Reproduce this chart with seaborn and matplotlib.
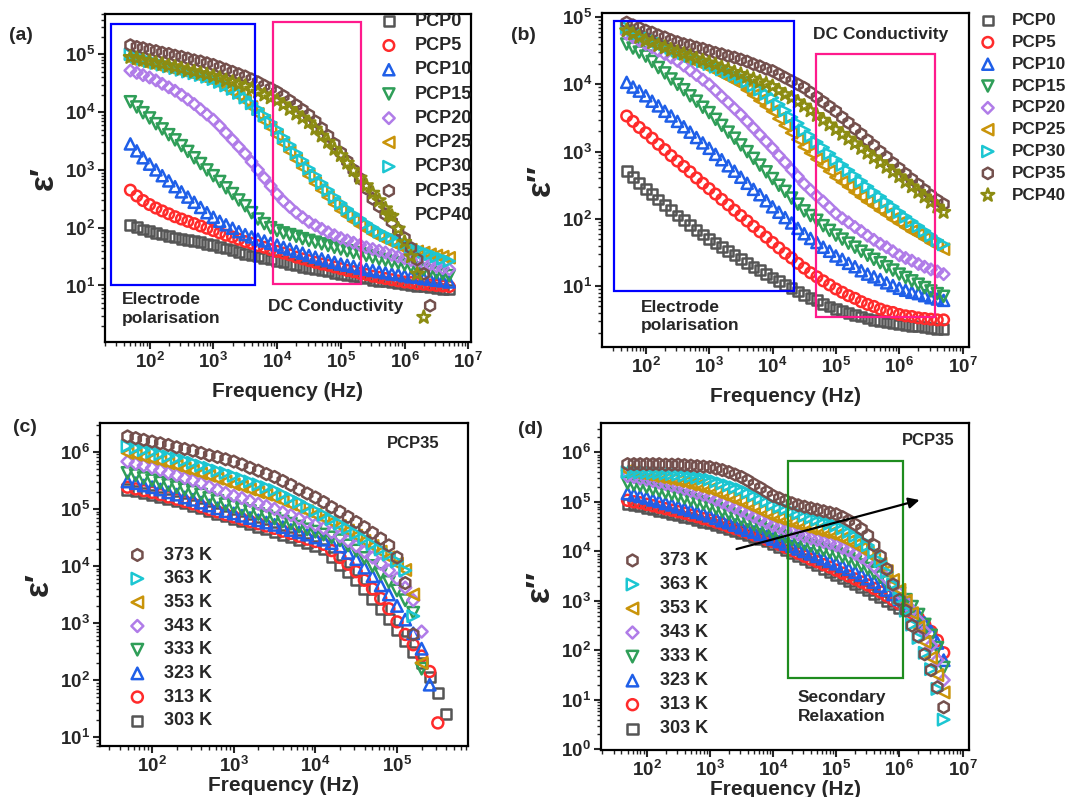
import numpy as np
import matplotlib
matplotlib.use("Agg")
import matplotlib.pyplot as plt
from matplotlib.ticker import LogLocator, FuncFormatter, NullFormatter, FixedLocator
from matplotlib.patches import Rectangle
import seaborn as sns

# ---------------- data (log10 of permittivity) ----------------
FREQ_HZ = [50, 63, 79, 100, 126, 158, 200, 251, 316, 398,
           501, 631, 794, 1.0e3, 1.26e3, 1.58e3, 2.0e3, 2.51e3, 3.16e3, 3.98e3,
           5.01e3, 6.31e3, 7.94e3, 1.0e4, 1.26e4, 1.58e4, 2.0e4, 2.51e4, 3.16e4, 3.98e4,
           5.01e4, 6.31e4, 7.94e4, 1.0e5, 1.26e5, 1.58e5, 2.0e5, 2.51e5, 3.16e5, 3.98e5,
           5.01e5, 6.31e5, 7.94e5, 1.0e6, 1.26e6, 1.58e6, 2.0e6, 2.51e6, 3.16e6, 3.98e6, 5.01e6]

PCP_LABELS = ["PCP0", "PCP5", "PCP10", "PCP15", "PCP20", "PCP25", "PCP30", "PCP35", "PCP40"]
TEMP_LABELS = ["303 K", "313 K", "323 K", "333 K", "343 K", "353 K", "363 K", "373 K"]

# (a) real permittivity eps' (log10)
a_pcp0 = [2.05, 2.01, 1.97, 1.94, 1.91, 1.88, 1.86, 1.83, 1.81, 1.79, 1.77, 1.75, 1.72, 1.70, 1.67, 1.64, 1.61,
          1.58, 1.55, 1.52, 1.50, 1.47, 1.45, 1.42, 1.40, 1.37, 1.35, 1.32, 1.30, 1.28, 1.26, 1.24, 1.22, 1.20,
          1.18, 1.16, 1.14, 1.12, 1.10, 1.08, 1.07, 1.05, 1.04, 1.02, 1.01, 0.99, 0.98, 0.97, 0.95, 0.94, 0.93]
a_pcp5 = [2.65, 2.55, 2.47, 2.40, 2.34, 2.29, 2.24, 2.19, 2.15, 2.11, 2.07, 2.03, 1.99, 1.95, 1.91, 1.87, 1.84,
          1.80, 1.76, 1.73, 1.69, 1.66, 1.62, 1.59, 1.56, 1.53, 1.49, 1.46, 1.43, 1.40, 1.37, 1.35, 1.32, 1.29,
          1.26, 1.24, 1.21, 1.19, 1.16, 1.14, 1.12, 1.10, 1.08, 1.06, 1.05, 1.03, 1.02, 1.01, 1.00, 0.99, 0.98]
a_pcp10 = [3.45, 3.33, 3.21, 3.10, 3.00, 2.90, 2.81, 2.71, 2.62, 2.53, 2.44, 2.35, 2.26, 2.18, 2.11, 2.05, 1.99,
           1.93, 1.88, 1.84, 1.80, 1.77, 1.73, 1.70, 1.66, 1.63, 1.59, 1.56, 1.52, 1.49, 1.46, 1.43, 1.40, 1.37,
           1.35, 1.33, 1.30, 1.28, 1.26, 1.24, 1.22, 1.20, 1.19, 1.17, 1.15, 1.14, 1.12, 1.11, 1.09, 1.08, 1.06]
a_pcp15 = [4.18, 4.09, 3.99, 3.90, 3.80, 3.71, 3.61, 3.52, 3.42, 3.32, 3.21, 3.11, 3.00, 2.90, 2.80, 2.69, 2.59,
           2.48, 2.38, 2.26, 2.15, 2.07, 2.00, 1.95, 1.91, 1.88, 1.85, 1.81, 1.78, 1.75, 1.72, 1.69, 1.66, 1.63,
           1.60, 1.57, 1.55, 1.52, 1.49, 1.46, 1.44, 1.41, 1.39, 1.36, 1.33, 1.30, 1.28, 1.25, 1.22, 1.20, 1.17]
a_pcp20 = [4.72, 4.68, 4.64, 4.60, 4.55, 4.49, 4.43, 4.37, 4.30, 4.22, 4.14, 4.05, 3.96, 3.87, 3.76, 3.64, 3.52,
           3.40, 3.28, 3.14, 3.00, 2.86, 2.72, 2.58, 2.46, 2.36, 2.26, 2.18, 2.10, 2.04, 1.98, 1.92, 1.87, 1.82,
           1.78, 1.74, 1.70, 1.66, 1.63, 1.60, 1.57, 1.53, 1.50, 1.47, 1.44, 1.41, 1.38, 1.36, 1.33, 1.30, 1.28]
a_pcp25 = [4.92, 4.90, 4.87, 4.85, 4.82, 4.80, 4.77, 4.75, 4.72, 4.69, 4.66, 4.62, 4.59, 4.55, 4.49, 4.42, 4.35,
           4.28, 4.20, 4.09, 3.97, 3.85, 3.73, 3.60, 3.46, 3.32, 3.18, 3.04, 2.90, 2.77, 2.65, 2.53, 2.41, 2.30,
           2.21, 2.12, 2.04, 1.97, 1.90, 1.84, 1.79, 1.74, 1.69, 1.65, 1.62, 1.59, 1.57, 1.54, 1.52, 1.50, 1.48]
a_pcp30 = [5.00, 4.96, 4.92, 4.88, 4.85, 4.82, 4.79, 4.76, 4.73, 4.70, 4.67, 4.64, 4.61, 4.57, 4.52, 4.46, 4.40,
           4.33, 4.25, 4.15, 4.05, 3.94, 3.82, 3.70, 3.56, 3.43, 3.29, 3.16, 3.02, 2.90, 2.77, 2.65, 2.53, 2.42,
           2.32, 2.23, 2.15, 2.07, 2.00, 1.93, 1.87, 1.82, 1.77, 1.72, 1.67, 1.63, 1.58, 1.54, 1.50, 1.46, 1.42]
a_pcp35 = [5.16, 5.13, 5.11, 5.08, 5.06, 5.03, 5.01, 4.98, 4.96, 4.93, 4.90, 4.88, 4.85, 4.82, 4.78, 4.74, 4.70,
           4.66, 4.62, 4.57, 4.52, 4.46, 4.41, 4.35, 4.28, 4.20, 4.12, 4.04, 3.95, 3.84, 3.72, 3.59, 3.45, 3.30,
           3.15, 3.00, 2.85, 2.68, 2.50, 2.37, 2.23, 2.10, 1.96, 1.82, 1.65, 1.45, 1.20, 0.65]
a_pcp40 = [4.95, 4.93, 4.90, 4.88, 4.85, 4.83, 4.80, 4.78, 4.75, 4.72, 4.70, 4.67, 4.65, 4.62, 4.59, 4.55, 4.52,
           4.48, 4.45, 4.40, 4.35, 4.30, 4.25, 4.20, 4.13, 4.05, 3.97, 3.90, 3.82, 3.71, 3.59, 3.48, 3.36, 3.25,
           3.12, 2.99, 2.86, 2.73, 2.60, 2.47, 2.33, 2.20, 1.98, 1.75, 1.50, 1.20, 0.45]

# (b) imaginary permittivity eps'' (log10)
b_pcp0 = [2.71, 2.62, 2.53, 2.45, 2.37, 2.29, 2.21, 2.13, 2.05, 1.98, 1.91, 1.84, 1.77, 1.70, 1.64, 1.58, 1.52,
          1.46, 1.40, 1.35, 1.29, 1.24, 1.18, 1.13, 1.08, 1.02, 0.97, 0.92, 0.87, 0.83, 0.79, 0.74, 0.70, 0.66,
          0.63, 0.60, 0.57, 0.55, 0.52, 0.50, 0.48, 0.46, 0.45, 0.43, 0.42, 0.41, 0.40, 0.39, 0.38, 0.37, 0.36]
b_pcp5 = [3.53, 3.45, 3.36, 3.28, 3.20, 3.11, 3.03, 2.94, 2.86, 2.78, 2.70, 2.61, 2.53, 2.45, 2.37, 2.29, 2.21,
          2.13, 2.05, 1.97, 1.89, 1.81, 1.73, 1.65, 1.57, 1.49, 1.42, 1.34, 1.27, 1.20, 1.14, 1.08, 1.02, 0.96,
          0.91, 0.86, 0.82, 0.77, 0.73, 0.70, 0.66, 0.63, 0.61, 0.58, 0.56, 0.55, 0.53, 0.52, 0.51, 0.50, 0.50]
b_pcp10 = [4.03, 3.96, 3.90, 3.83, 3.75, 3.68, 3.60, 3.53, 3.45, 3.37, 3.29, 3.21, 3.13, 3.05, 2.96, 2.88, 2.79,
           2.71, 2.62, 2.53, 2.44, 2.36, 2.27, 2.18, 2.10, 2.02, 1.94, 1.86, 1.78, 1.71, 1.65, 1.58, 1.52, 1.45,
           1.40, 1.34, 1.29, 1.23, 1.18, 1.14, 1.10, 1.05, 1.01, 0.97, 0.94, 0.91, 0.89, 0.86, 0.83, 0.81, 0.79]
b_pcp15 = [4.60, 4.54, 4.48, 4.42, 4.34, 4.25, 4.17, 4.08, 4.00, 3.92, 3.83, 3.75, 3.66, 3.58, 3.48, 3.39, 3.29,
           3.20, 3.10, 3.00, 2.90, 2.80, 2.70, 2.60, 2.50, 2.41, 2.31, 2.22, 2.12, 2.05, 1.98, 1.90, 1.83, 1.76,
           1.70, 1.64, 1.58, 1.52, 1.46, 1.40, 1.35, 1.29, 1.24, 1.18, 1.13, 1.08, 1.03, 0.98, 0.93, 0.89, 0.85]
b_pcp20 = [4.75, 4.70, 4.65, 4.60, 4.55, 4.50, 4.45, 4.40, 4.35, 4.28, 4.21, 4.14, 4.07, 4.00, 3.91, 3.82, 3.73,
           3.64, 3.55, 3.45, 3.35, 3.25, 3.15, 3.05, 2.94, 2.84, 2.73, 2.63, 2.52, 2.43, 2.34, 2.26, 2.17, 2.08,
           2.01, 1.95, 1.88, 1.82, 1.75, 1.69, 1.63, 1.58, 1.52, 1.46, 1.42, 1.38, 1.33, 1.29, 1.25, 1.22, 1.18]
b_pcp25 = [4.80, 4.75, 4.70, 4.65, 4.61, 4.57, 4.53, 4.49, 4.45, 4.41, 4.37, 4.33, 4.29, 4.25, 4.20, 4.15, 4.10,
           4.05, 4.00, 3.92, 3.84, 3.76, 3.68, 3.60, 3.49, 3.39, 3.28, 3.18, 3.07, 2.98, 2.89, 2.80, 2.71, 2.62,
           2.55, 2.48, 2.40, 2.33, 2.26, 2.20, 2.13, 2.07, 2.00, 1.94, 1.88, 1.82, 1.77, 1.71, 1.65, 1.60, 1.55]
b_pcp30 = [4.85, 4.81, 4.76, 4.72, 4.68, 4.63, 4.59, 4.54, 4.50, 4.46, 4.42, 4.38, 4.34, 4.30, 4.26, 4.22, 4.18,
           4.14, 4.10, 4.04, 3.98, 3.92, 3.86, 3.80, 3.70, 3.61, 3.51, 3.42, 3.32, 3.23, 3.14, 3.06, 2.97, 2.88,
           2.80, 2.72, 2.64, 2.56, 2.48, 2.40, 2.33, 2.25, 2.18, 2.10, 2.03, 1.96, 1.89, 1.82, 1.75, 1.68, 1.62]
b_pcp35 = [4.92, 4.88, 4.84, 4.80, 4.77, 4.73, 4.70, 4.66, 4.63, 4.60, 4.58, 4.55, 4.53, 4.50, 4.47, 4.45, 4.42,
           4.40, 4.37, 4.34, 4.30, 4.27, 4.23, 4.20, 4.15, 4.10, 4.05, 4.00, 3.95, 3.88, 3.81, 3.74, 3.67, 3.60,
           3.51, 3.43, 3.34, 3.26, 3.17, 3.09, 3.00, 2.92, 2.83, 2.75, 2.67, 2.59, 2.51, 2.43, 2.35, 2.28, 2.22]
b_pcp40 = [4.80, 4.75, 4.70, 4.65, 4.62, 4.58, 4.55, 4.51, 4.48, 4.45, 4.42, 4.38, 4.35, 4.32, 4.29, 4.25, 4.22,
           4.18, 4.15, 4.11, 4.08, 4.04, 4.01, 3.97, 3.91, 3.85, 3.80, 3.74, 3.68, 3.61, 3.54, 3.47, 3.40, 3.33,
           3.26, 3.19, 3.12, 3.05, 2.98, 2.91, 2.84, 2.77, 2.70, 2.63, 2.55, 2.48, 2.40, 2.33, 2.25, 2.18, 2.10]

# (c) PCP35 eps' vs temperature (log10)
c_303 = [5.34, 5.31, 5.28, 5.25, 5.21, 5.17, 5.14, 5.10, 5.06, 5.01, 4.97, 4.92, 4.87, 4.83, 4.78, 4.74, 4.69,
         4.65, 4.60, 4.55, 4.50, 4.45, 4.40, 4.35, 4.30, 4.16, 4.02, 3.89, 3.75, 3.59, 3.42, 3.25, 3.07, 2.88,
         2.68, 2.50, 2.30, 2.05, 1.78, 1.40]
c_313 = [5.38, 5.35, 5.32, 5.29, 5.25, 5.21, 5.17, 5.13, 5.09, 5.04, 4.99, 4.95, 4.90, 4.86, 4.82, 4.78, 4.74,
         4.70, 4.66, 4.61, 4.57, 4.52, 4.47, 4.43, 4.38, 4.27, 4.15, 4.03, 3.90, 3.75, 3.60, 3.43, 3.25, 3.02,
         2.80, 2.62, 2.42, 2.15, 1.25]
c_323 = [5.48, 5.45, 5.41, 5.38, 5.34, 5.29, 5.25, 5.20, 5.16, 5.11, 5.06, 5.01, 4.96, 4.92, 4.88, 4.84, 4.80,
         4.76, 4.72, 4.68, 4.63, 4.59, 4.55, 4.50, 4.46, 4.40, 4.34, 4.23, 4.12, 3.97, 3.82, 3.66, 3.50, 3.30,
         3.06, 2.82, 2.55, 1.92]
c_333 = [5.63, 5.59, 5.54, 5.50, 5.46, 5.42, 5.38, 5.34, 5.30, 5.25, 5.19, 5.14, 5.08, 5.04, 5.00, 4.96, 4.91,
         4.87, 4.83, 4.78, 4.74, 4.69, 4.64, 4.60, 4.55, 4.50, 4.45, 4.36, 4.27, 4.14, 4.00, 3.86, 3.72, 3.57,
         3.40, 3.18, 2.20]
c_343 = [5.83, 5.79, 5.76, 5.72, 5.68, 5.63, 5.59, 5.54, 5.50, 5.45, 5.39, 5.34, 5.28, 5.23, 5.19, 5.14, 5.09,
         5.05, 5.00, 4.94, 4.89, 4.83, 4.77, 4.72, 4.66, 4.59, 4.52, 4.44, 4.35, 4.25, 4.15, 4.04, 3.92, 3.78,
         3.62, 3.40, 2.85]
c_353 = [5.98, 5.95, 5.91, 5.88, 5.84, 5.80, 5.76, 5.71, 5.67, 5.62, 5.58, 5.53, 5.48, 5.43, 5.39, 5.34, 5.29,
         5.25, 5.20, 5.14, 5.08, 5.02, 4.96, 4.90, 4.84, 4.77, 4.70, 4.62, 4.53, 4.44, 4.35, 4.25, 4.15, 4.04,
         3.93, 3.50, 2.30]
c_363 = [6.10, 6.07, 6.03, 6.00, 5.96, 5.92, 5.89, 5.85, 5.81, 5.76, 5.72, 5.67, 5.63, 5.58, 5.53, 5.48, 5.43,
         5.38, 5.33, 5.26, 5.19, 5.12, 5.04, 4.97, 4.90, 4.82, 4.74, 4.66, 4.57, 4.48, 4.38, 4.29, 4.20, 4.08,
         3.92, 3.12]
c_373 = [6.27, 6.24, 6.21, 6.18, 6.15, 6.12, 6.08, 6.05, 6.02, 5.98, 5.94, 5.91, 5.87, 5.83, 5.78, 5.72, 5.67,
         5.61, 5.56, 5.49, 5.42, 5.34, 5.27, 5.20, 5.12, 5.03, 4.95, 4.86, 4.77, 4.68, 4.58, 4.48, 4.36, 4.15,
         3.70, 2.80]

# (d) PCP35 eps'' vs temperature (log10)
d_303 = [4.96, 4.93, 4.91, 4.88, 4.85, 4.82, 4.79, 4.76, 4.73, 4.70, 4.67, 4.63, 4.60, 4.57, 4.53, 4.49, 4.46,
         4.42, 4.38, 4.33, 4.29, 4.24, 4.20, 4.15, 4.09, 4.03, 3.97, 3.91, 3.85, 3.78, 3.72, 3.65, 3.59, 3.52,
         3.46, 3.40, 3.34, 3.28, 3.21, 3.14, 3.07, 3.00, 2.93, 2.86]
d_313 = [5.03, 5.00, 4.98, 4.95, 4.92, 4.89, 4.86, 4.83, 4.80, 4.77, 4.73, 4.70, 4.66, 4.63, 4.59, 4.55, 4.50,
         4.46, 4.42, 4.38, 4.33, 4.29, 4.24, 4.20, 4.14, 4.08, 4.02, 3.96, 3.90, 3.84, 3.79, 3.73, 3.68, 3.62,
         3.56, 3.50, 3.44, 3.38, 3.32, 3.25, 3.18, 3.10, 3.02, 2.94, 2.85, 2.76, 2.65, 2.52, 2.38, 2.20, 1.95]
d_323 = [5.17, 5.14, 5.11, 5.08, 5.04, 5.01, 4.97, 4.94, 4.90, 4.86, 4.83, 4.79, 4.76, 4.72, 4.67, 4.62, 4.58,
         4.53, 4.48, 4.43, 4.39, 4.34, 4.30, 4.25, 4.20, 4.15, 4.10, 4.05, 4.00, 3.95, 3.90, 3.85, 3.80, 3.75,
         3.70, 3.64, 3.58, 3.52, 3.45, 3.38, 3.30, 3.22, 3.13, 3.03, 2.93, 2.82, 2.70, 2.55, 2.38, 2.15, 1.80]
d_333 = [5.38, 5.35, 5.33, 5.30, 5.26, 5.23, 5.19, 5.16, 5.12, 5.08, 5.04, 5.00, 4.96, 4.92, 4.87, 4.81, 4.76,
         4.70, 4.65, 4.60, 4.54, 4.49, 4.43, 4.38, 4.33, 4.29, 4.24, 4.20, 4.15, 4.11, 4.07, 4.03, 3.99, 3.95,
         3.90, 3.85, 3.79, 3.72, 3.65, 3.57, 3.48, 3.38, 3.27, 3.15, 3.02, 2.88, 2.72, 2.52, 2.30, 2.05, 1.65]
d_343 = [5.52, 5.50, 5.47, 5.45, 5.42, 5.39, 5.36, 5.33, 5.30, 5.26, 5.22, 5.18, 5.14, 5.10, 5.04, 4.99, 4.93,
         4.88, 4.82, 4.76, 4.70, 4.64, 4.58, 4.52, 4.48, 4.43, 4.39, 4.34, 4.30, 4.26, 4.23, 4.19, 4.16, 4.12,
         4.07, 4.02, 3.95, 3.88, 3.80, 3.70, 3.58, 3.45, 3.30, 3.15, 2.98, 2.80, 2.60, 2.38, 2.10, 1.80, 1.40]
d_353 = [5.63, 5.60, 5.58, 5.55, 5.52, 5.50, 5.47, 5.45, 5.42, 5.39, 5.35, 5.32, 5.28, 5.25, 5.20, 5.15, 5.10,
         5.05, 5.00, 4.94, 4.88, 4.82, 4.76, 4.70, 4.66, 4.62, 4.58, 4.54, 4.50, 4.46, 4.43, 4.39, 4.36, 4.32,
         4.26, 4.20, 4.13, 4.06, 3.98, 3.88, 3.75, 3.60, 3.42, 3.22, 3.00, 2.75, 2.47, 2.17, 1.85, 1.50, 1.15]
d_363 = [5.60, 5.60, 5.59, 5.59, 5.58, 5.58, 5.57, 5.56, 5.55, 5.53, 5.51, 5.49, 5.47, 5.45, 5.41, 5.37, 5.33,
         5.29, 5.25, 5.19, 5.13, 5.07, 5.01, 4.95, 4.90, 4.86, 4.81, 4.77, 4.72, 4.68, 4.64, 4.60, 4.56, 4.52,
         4.46, 4.39, 4.31, 4.22, 4.12, 3.98, 3.80, 3.58, 3.33, 3.05, 2.80, 2.52, 2.25, 1.95, 1.62, 1.22, 0.60]
d_373 = [5.76, 5.76, 5.76, 5.76, 5.76, 5.76, 5.75, 5.75, 5.75, 5.74, 5.73, 5.72, 5.71, 5.70, 5.67, 5.64, 5.60,
         5.55, 5.50, 5.43, 5.35, 5.28, 5.20, 5.12, 5.07, 5.02, 4.97, 4.93, 4.90, 4.87, 4.84, 4.81, 4.78, 4.75,
         4.69, 4.62, 4.54, 4.45, 4.32, 4.12, 3.90, 3.64, 3.33, 3.02, 2.80, 2.50, 2.28, 1.92, 1.60, 1.25, 0.85]

# ---------------- styling ----------------
COLORS = ["#555555", "#ff2b2b", "#1f5fe8", "#2f9e58", "#b07ce8", "#c9940a", "#1cc6d2", "#74504d", "#8c8c12"]
MARKERS = ["s", "o", "^", "v", "D", "<", ">", "h", "*"]
SIZE_SCALE = {"s": 0.85, "o": 1.0, "^": 1.1, "v": 1.1, "D": 0.6, "<": 1.1, ">": 1.1, "h": 1.15, "*": 1.6}

sns.set_style("ticks")
FONT = ["Liberation Sans", "DejaVu Sans"]
plt.rcParams["font.family"] = FONT
plt.rcParams["font.weight"] = "bold"
plt.rcParams["mathtext.fontset"] = "custom"
plt.rcParams["mathtext.rm"] = "Liberation Sans"
plt.rcParams["mathtext.bf"] = "Liberation Sans:bold"

W, H = 1069, 797
fig = plt.figure(figsize=(W / 100, H / 100), dpi=100)


def px_axes(l, t, r, b):
    return fig.add_axes([l / W, 1 - b / H, (r - l) / W, (b - t) / H])


ax_a = px_axes(105, 14, 471, 342)
ax_b = px_axes(602, 13, 969, 347)
ax_c = px_axes(100, 423, 468, 746)
ax_d = px_axes(601, 423, 969, 750)

freq = np.array(FREQ_HZ, dtype=float)


def draw(ax, logvals, label, color, marker, base=58, lw=1.8):
    n = len(logvals)
    sns.scatterplot(x=freq[:n], y=10.0 ** np.asarray(logvals), ax=ax, marker=marker,
                    s=base * SIZE_SCALE[marker], facecolor="none", edgecolor=color,
                    linewidth=lw, label=label, legend=False, zorder=2)


def dec_fmt(v, pos):
    if v <= 0:
        return ""
    e = int(round(np.log10(v)))
    return r"$\mathbf{10^{%d}}$" % e


def decades_within(lo, hi):
    return [10.0 ** e for e in range(-2, 9) if lo <= 10.0 ** e <= hi]


def style_axes(ax, xlim, ylim, ylabel, xlabelpad):
    ax.set_xscale("log")
    ax.set_yscale("log")
    ax.set_xlim(*xlim)
    ax.set_ylim(*ylim)
    for a, lim in ((ax.xaxis, xlim), (ax.yaxis, ylim)):
        a.set_major_locator(FixedLocator(decades_within(*lim)))
        a.set_minor_locator(LogLocator(base=10, subs=np.arange(2, 10), numticks=200))
        a.set_major_formatter(FuncFormatter(dec_fmt))
        a.set_minor_formatter(NullFormatter())
    ax.tick_params(which="major", direction="out", length=5, width=1.5, labelsize=13.5, pad=2)
    ax.tick_params(which="minor", direction="out", length=2.8, width=1.0)
    ax.tick_params(top=False, right=False)
    for sp in ax.spines.values():
        sp.set_visible(True)
        sp.set_linewidth(1.6)
        sp.set_color("black")
        sp.set_zorder(5)
    ax.set_xlabel("Frequency (Hz)", fontsize=15, fontweight="bold", labelpad=xlabelpad)
    ax.set_ylabel(ylabel, fontsize=24, fontweight="bold", labelpad=4, family=FONT)


LEG_PROP = {"weight": "bold", "size": 13}

# ---- panel (a)
a_series = [a_pcp0, a_pcp5, a_pcp10, a_pcp15, a_pcp20, a_pcp25, a_pcp30, a_pcp35, a_pcp40]
for vals, lab, col, mk in zip(a_series, PCP_LABELS, COLORS, MARKERS):
    draw(ax_a, vals, lab, col, mk)
style_axes(ax_a, (20, 1.1e7), (1.05, 5e5), "ε′", 7)
ax_a.add_patch(Rectangle((24.5, 10), 4500 - 24.5, 3.4e5 - 10, fill=False, ec="#0000ff", lw=1.6, zorder=3))
ax_a.add_patch(Rectangle((8600, 10.5), 2.05e5 - 8600, 3.7e5 - 10.5, fill=False, ec="#ff1a8c", lw=1.6, zorder=3))
ax_a.text(0.047, 0.10, "Electrode\npolarisation", transform=ax_a.transAxes, ha="left", va="center",
          fontsize=12.5, fontweight="bold", linespacing=1.3)
ax_a.text(0.63, 0.108, "DC Conductivity", transform=ax_a.transAxes, ha="center", va="center",
          fontsize=12.5, fontweight="bold")
ax_a.legend(loc="upper left", bbox_to_anchor=(0.751, 1.003), frameon=False, borderpad=0, borderaxespad=0,
            handlelength=1.0, handletextpad=0.95, labelspacing=0.40, scatterpoints=1, prop=LEG_PROP)

# ---- panel (b)
b_series = [b_pcp0, b_pcp5, b_pcp10, b_pcp15, b_pcp20, b_pcp25, b_pcp30, b_pcp35, b_pcp40]
for vals, lab, col, mk in zip(b_series, PCP_LABELS, COLORS, MARKERS):
    draw(ax_b, vals, lab, col, mk)
style_axes(ax_b, (20.4, 1.26e7), (1.25, 1.15e5), "ε″", 7)
ax_b.add_patch(Rectangle((32, 8.5), 2.2e4 - 32, 8.7e4 - 8.5, fill=False, ec="#0000ff", lw=1.6, zorder=3))
ax_b.add_patch(Rectangle((4.8e4, 3.5), 3.7e6 - 4.8e4, 2.8e4 - 3.5, fill=False, ec="#ff1a8c", lw=1.6, zorder=3))
ax_b.text(0.759, 0.935, "DC Conductivity", transform=ax_b.transAxes, ha="center", va="center",
          fontsize=12.5, fontweight="bold")
ax_b.text(0.105, 0.091, "Electrode\npolarisation", transform=ax_b.transAxes, ha="left", va="center",
          fontsize=12.5, fontweight="bold", linespacing=1.3)
ax_b.legend(loc="upper left", bbox_to_anchor=(1.028, 1.0), frameon=False, borderpad=0, borderaxespad=0,
            handlelength=1.0, handletextpad=0.9, labelspacing=0.40, scatterpoints=1,
            prop={"weight": "bold", "size": 12.3})

# ---- panel (c)
T_COLORS = COLORS[:8]
T_MARKERS = MARKERS[:8]
c_series = [c_303, c_313, c_323, c_333, c_343, c_353, c_363, c_373]
for vals, lab, col, mk in zip(c_series, TEMP_LABELS, T_COLORS, T_MARKERS):
    draw(ax_c, vals, lab, col, mk, base=62)
style_axes(ax_c, (23, 7.4e5), (7, 3.2e6), "ε′", 0)
ax_c.text(0.85, 0.937, "PCP35", transform=ax_c.transAxes, ha="center", va="center",
          fontsize=12, fontweight="bold")
h, l = ax_c.get_legend_handles_labels()
ax_c.legend(h[::-1], l[::-1], loc="upper left", bbox_to_anchor=(0.077, 0.617), frameon=False, borderpad=0,
            borderaxespad=0, handlelength=1.0, handletextpad=1.0, labelspacing=0.37, scatterpoints=1,
            prop=LEG_PROP)

# ---- panel (d)
d_series = [d_303, d_313, d_323, d_333, d_343, d_353, d_363, d_373]
for vals, lab, col, mk in zip(d_series, TEMP_LABELS, T_COLORS, T_MARKERS):
    draw(ax_d, vals, lab, col, mk, base=62)
style_axes(ax_d, (19, 1.26e7), (0.97, 3.9e6), "ε″", 0)
ax_d.add_patch(Rectangle((1.7e4, 28), 1.15e6 - 1.7e4, 6.7e5 - 28, fill=False, ec="#1e8c1e", lw=1.6, zorder=3))
ax_d.annotate("", xy=(10 ** 6.36, 10 ** 5.05), xytext=(10 ** 3.38, 10 ** 4.03),
              arrowprops=dict(arrowstyle="-|>", color="black", lw=1.6, mutation_scale=16), zorder=4)
ax_d.text(0.655, 0.132, "Secondary\nRelaxation", transform=ax_d.transAxes, ha="center", va="center",
          fontsize=12.5, fontweight="bold", linespacing=1.3)
ax_d.text(0.888, 0.948, "PCP35", transform=ax_d.transAxes, ha="center", va="center",
          fontsize=12, fontweight="bold")
h, l = ax_d.get_legend_handles_labels()
ax_d.legend(h[::-1], l[::-1], loc="upper left", bbox_to_anchor=(0.061, 0.605), frameon=False, borderpad=0,
            borderaxespad=0, handlelength=1.0, handletextpad=1.02, labelspacing=0.39, scatterpoints=1,
            prop=LEG_PROP)

# panel labels
for txt, x, y in [("(a)", 21, 35), ("(b)", 523, 35), ("(c)", 25, 428), ("(d)", 530, 430)]:
    fig.text(x / W, 1 - y / H, txt, ha="center", va="center", fontsize=14, fontweight="bold")

fig.savefig("out.png", dpi=100)
